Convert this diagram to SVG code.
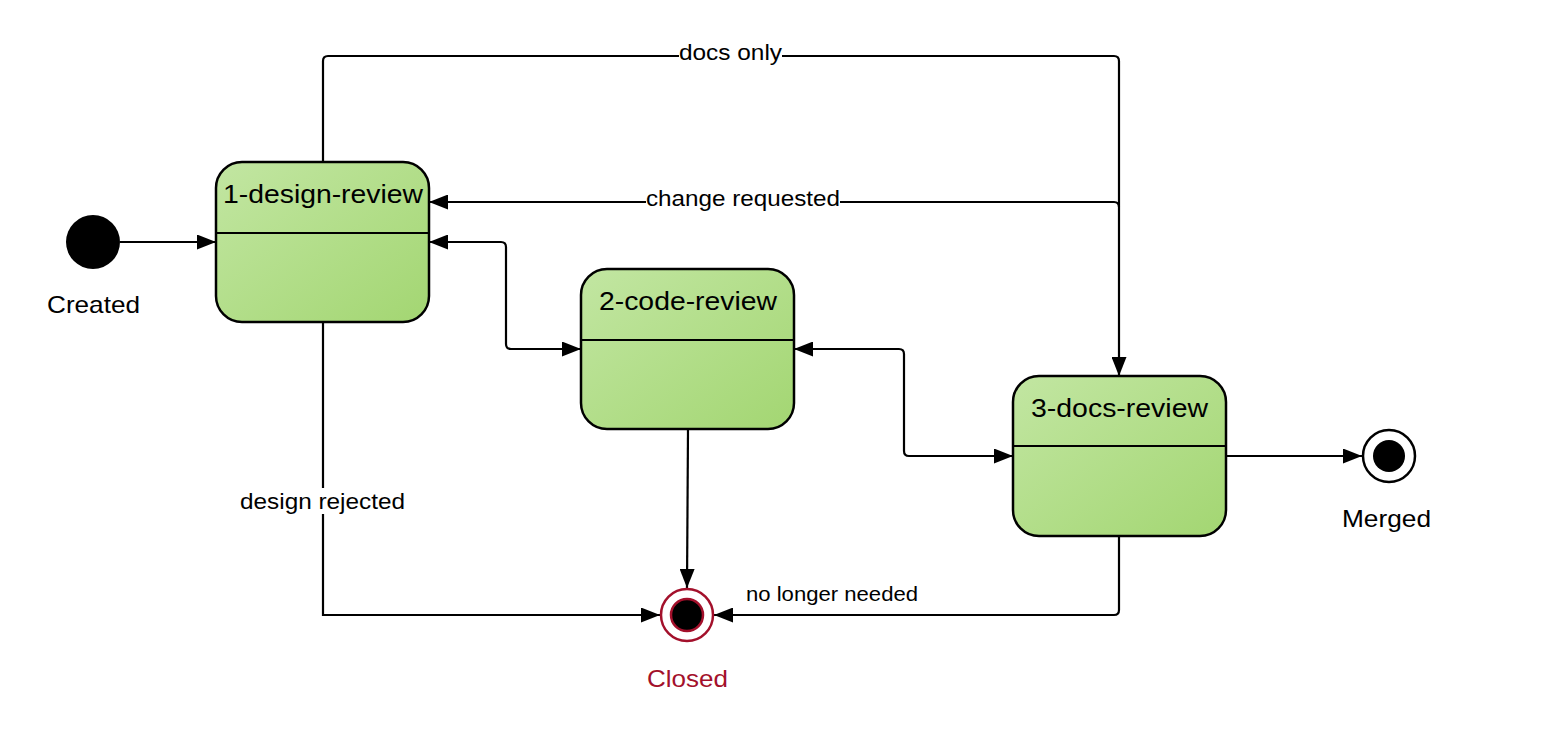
<svg xmlns="http://www.w3.org/2000/svg" width="1547" height="749" viewBox="0 0 1547 749">
<style>
.node{stroke:#000;stroke-width:2.5;fill:url(#g)}
.div{stroke:#000;stroke-width:2}
.t{font-family:"Liberation Sans",Arial,sans-serif;font-size:25px;text-anchor:middle;fill:#000}
.lbl{font-family:"Liberation Sans",Arial,sans-serif;font-size:22px;text-anchor:middle;fill:#000}
.c{fill:none;stroke:#000;stroke-width:2.2}
.bg{fill:#fff}
</style>
<defs>
<linearGradient id="g" x1="0" y1="0" x2="1" y2="1">
<stop offset="0" stop-color="#c2e6a2"/>
<stop offset="1" stop-color="#a3d672"/>
</linearGradient>
<marker id="a" viewBox="0 0 19 15" refX="19" refY="7.5" markerWidth="19" markerHeight="15" markerUnits="userSpaceOnUse" orient="auto-start-reverse">
<path d="M0,0 L19,7.5 L0,15 Z" fill="#000"/>
</marker>
</defs>
<g id="connectors">
<path class="c" d="M323,162 V61 Q323,56 328,56 H1114 Q1119,56 1119,61 V376" marker-end="url(#a)"/>
<path class="c" d="M1119,207 Q1119,202 1114,202 H429" marker-end="url(#a)"/>
<path class="c" d="M429,242 H501 Q506,242 506,247 V344 Q506,349 511,349 H581" marker-start="url(#a)" marker-end="url(#a)"/>
<path class="c" d="M794,349 H899 Q904,349 904,354 V451 Q904,456 909,456 H1013" marker-start="url(#a)" marker-end="url(#a)"/>
<path class="c" d="M688,429 L687,588" marker-end="url(#a)"/>
<path class="c" d="M323,322 V615 H660" marker-end="url(#a)"/>
<path class="c" d="M1119,536 V610 Q1119,615 1114,615 H714" marker-end="url(#a)"/>
<path class="c" d="M120,242 H216" marker-end="url(#a)"/>
<path class="c" d="M1226,456 H1362" marker-end="url(#a)"/>
<rect class="bg" x="679" y="40" width="103" height="26"/>
<text class="lbl" x="730.5" y="60" textLength="103" lengthAdjust="spacingAndGlyphs">docs only</text>
<rect class="bg" x="646" y="186" width="194" height="26"/>
<text class="lbl" x="743" y="206" textLength="194" lengthAdjust="spacingAndGlyphs">change requested</text>
<rect class="bg" x="239" y="488" width="167" height="26"/>
<text class="lbl" x="322.5" y="509" textLength="165" lengthAdjust="spacingAndGlyphs">design rejected</text>
<text class="lbl" x="832" y="601" style="font-size:20px" textLength="172" lengthAdjust="spacingAndGlyphs">no longer needed</text>
</g>
<g id="created">
<circle cx="93" cy="242" r="27" fill="#000"/>
<text class="t" x="93.5" y="313" style="font-size:24px" textLength="93" lengthAdjust="spacingAndGlyphs">Created</text>
</g>
<g id="n1">
<rect class="node" x="216" y="162" width="213" height="160" rx="26"/>
<line class="div" x1="216" y1="233" x2="429" y2="233"/>
<text class="t" x="323" y="203" textLength="200" lengthAdjust="spacingAndGlyphs">1-design-review</text>
</g>
<g id="n2">
<rect class="node" x="581" y="269" width="213" height="160" rx="26"/>
<line class="div" x1="581" y1="340" x2="794" y2="340"/>
<text class="t" x="688" y="310" textLength="178" lengthAdjust="spacingAndGlyphs">2-code-review</text>
</g>
<g id="n3">
<rect class="node" x="1013" y="376" width="213" height="160" rx="26"/>
<line class="div" x1="1013" y1="446" x2="1226" y2="446"/>
<text class="t" x="1119.5" y="417" textLength="177" lengthAdjust="spacingAndGlyphs">3-docs-review</text>
</g>
<g id="merged">
<circle cx="1389" cy="456" r="26" fill="#fff" stroke="#000" stroke-width="2.5"/>
<circle cx="1389" cy="456" r="16" fill="#000"/>
<text class="t" x="1386.5" y="527" style="font-size:24px" textLength="89" lengthAdjust="spacingAndGlyphs">Merged</text>
</g>
<g id="closed">
<circle cx="687" cy="615" r="26" fill="#fff" stroke="#a3102b" stroke-width="2.5"/>
<circle cx="687" cy="615" r="16" fill="#000" stroke="#a3102b" stroke-width="2.5"/>
<text class="t" x="687.5" y="687" style="font-size:24px;fill:#a3102b" textLength="81" lengthAdjust="spacingAndGlyphs">Closed</text>
</g>
</svg>
